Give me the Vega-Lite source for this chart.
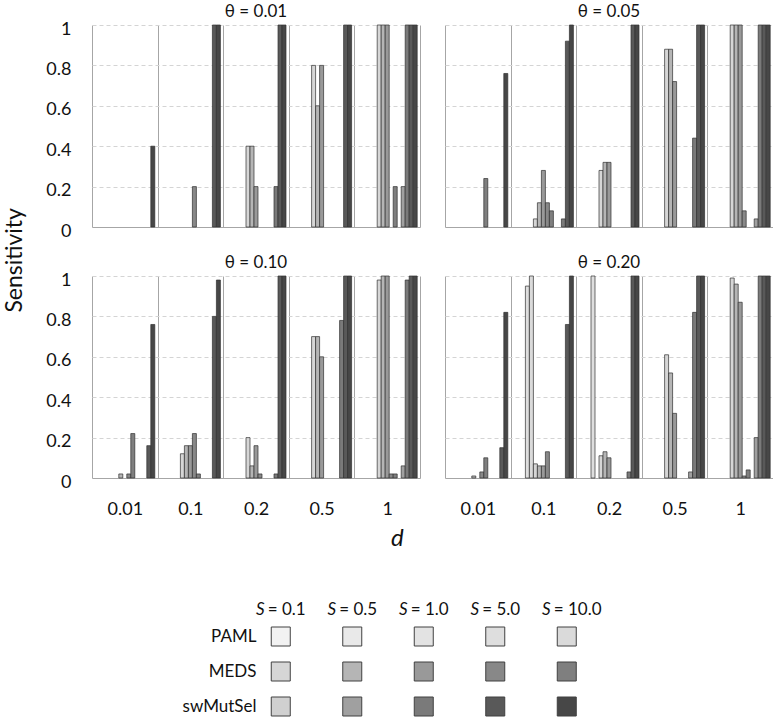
{
  "$schema": "https://vega.github.io/schema/vega-lite/v6.json",
  "padding": {"left": 3, "top": 2, "right": 0, "bottom": 0},
  "background": "white",
  "config": {
    "font": "Lato",
    "view": {"stroke": null},
    "axis": {"labelColor": "#111", "labelFont": "Lato"},
    "header": {"labelFont": "Lato", "labelColor": "#111"},
    "title": {"font": "Lato", "color": "#111", "fontWeight": "normal"}
  },
  "datasets": {
    "bars": [
      {"t": "0.01", "d": "0.01", "k": "swMutSel 10.0", "v": 0.40},
      {"t": "0.01", "d": "0.1", "k": "MEDS 5.0", "v": 0.20},
      {"t": "0.01", "d": "0.1", "k": "swMutSel 5.0", "v": 1},
      {"t": "0.01", "d": "0.1", "k": "swMutSel 10.0", "v": 1},
      {"t": "0.01", "d": "0.2", "k": "MEDS 0.1", "v": 0.40},
      {"t": "0.01", "d": "0.2", "k": "MEDS 0.5", "v": 0.40},
      {"t": "0.01", "d": "0.2", "k": "MEDS 1.0", "v": 0.20},
      {"t": "0.01", "d": "0.2", "k": "swMutSel 1.0", "v": 0.20},
      {"t": "0.01", "d": "0.2", "k": "swMutSel 5.0", "v": 1},
      {"t": "0.01", "d": "0.2", "k": "swMutSel 10.0", "v": 1},
      {"t": "0.01", "d": "0.5", "k": "MEDS 0.1", "v": 0.80},
      {"t": "0.01", "d": "0.5", "k": "MEDS 0.5", "v": 0.60},
      {"t": "0.01", "d": "0.5", "k": "MEDS 1.0", "v": 0.80},
      {"t": "0.01", "d": "0.5", "k": "swMutSel 5.0", "v": 1},
      {"t": "0.01", "d": "0.5", "k": "swMutSel 10.0", "v": 1},
      {"t": "0.01", "d": "1", "k": "MEDS 0.1", "v": 1},
      {"t": "0.01", "d": "1", "k": "MEDS 0.5", "v": 1},
      {"t": "0.01", "d": "1", "k": "MEDS 1.0", "v": 1},
      {"t": "0.01", "d": "1", "k": "MEDS 10.0", "v": 0.20},
      {"t": "0.01", "d": "1", "k": "swMutSel 0.5", "v": 0.20},
      {"t": "0.01", "d": "1", "k": "swMutSel 1.0", "v": 1},
      {"t": "0.01", "d": "1", "k": "swMutSel 5.0", "v": 1},
      {"t": "0.01", "d": "1", "k": "swMutSel 10.0", "v": 1},

      {"t": "0.05", "d": "0.01", "k": "MEDS 10.0", "v": 0.24},
      {"t": "0.05", "d": "0.01", "k": "swMutSel 10.0", "v": 0.76},
      {"t": "0.05", "d": "0.1", "k": "MEDS 0.1", "v": 0.04},
      {"t": "0.05", "d": "0.1", "k": "MEDS 0.5", "v": 0.12},
      {"t": "0.05", "d": "0.1", "k": "MEDS 1.0", "v": 0.28},
      {"t": "0.05", "d": "0.1", "k": "MEDS 5.0", "v": 0.12},
      {"t": "0.05", "d": "0.1", "k": "MEDS 10.0", "v": 0.08},
      {"t": "0.05", "d": "0.1", "k": "swMutSel 1.0", "v": 0.04},
      {"t": "0.05", "d": "0.1", "k": "swMutSel 5.0", "v": 0.92},
      {"t": "0.05", "d": "0.1", "k": "swMutSel 10.0", "v": 1},
      {"t": "0.05", "d": "0.2", "k": "MEDS 0.1", "v": 0.28},
      {"t": "0.05", "d": "0.2", "k": "MEDS 0.5", "v": 0.32},
      {"t": "0.05", "d": "0.2", "k": "MEDS 1.0", "v": 0.32},
      {"t": "0.05", "d": "0.2", "k": "swMutSel 5.0", "v": 1},
      {"t": "0.05", "d": "0.2", "k": "swMutSel 10.0", "v": 1},
      {"t": "0.05", "d": "0.5", "k": "MEDS 0.1", "v": 0.88},
      {"t": "0.05", "d": "0.5", "k": "MEDS 0.5", "v": 0.88},
      {"t": "0.05", "d": "0.5", "k": "MEDS 1.0", "v": 0.72},
      {"t": "0.05", "d": "0.5", "k": "swMutSel 1.0", "v": 0.44},
      {"t": "0.05", "d": "0.5", "k": "swMutSel 5.0", "v": 1},
      {"t": "0.05", "d": "0.5", "k": "swMutSel 10.0", "v": 1},
      {"t": "0.05", "d": "1", "k": "MEDS 0.1", "v": 1},
      {"t": "0.05", "d": "1", "k": "MEDS 0.5", "v": 1},
      {"t": "0.05", "d": "1", "k": "MEDS 1.0", "v": 1},
      {"t": "0.05", "d": "1", "k": "MEDS 5.0", "v": 0.08},
      {"t": "0.05", "d": "1", "k": "swMutSel 0.5", "v": 0.04},
      {"t": "0.05", "d": "1", "k": "swMutSel 1.0", "v": 1},
      {"t": "0.05", "d": "1", "k": "swMutSel 5.0", "v": 1},
      {"t": "0.05", "d": "1", "k": "swMutSel 10.0", "v": 1},

      {"t": "0.10", "d": "0.01", "k": "MEDS 0.5", "v": 0.02},
      {"t": "0.10", "d": "0.01", "k": "MEDS 5.0", "v": 0.02},
      {"t": "0.10", "d": "0.01", "k": "MEDS 10.0", "v": 0.22},
      {"t": "0.10", "d": "0.01", "k": "swMutSel 5.0", "v": 0.16},
      {"t": "0.10", "d": "0.01", "k": "swMutSel 10.0", "v": 0.76},
      {"t": "0.10", "d": "0.1", "k": "MEDS 0.1", "v": 0.12},
      {"t": "0.10", "d": "0.1", "k": "MEDS 0.5", "v": 0.16},
      {"t": "0.10", "d": "0.1", "k": "MEDS 1.0", "v": 0.16},
      {"t": "0.10", "d": "0.1", "k": "MEDS 5.0", "v": 0.22},
      {"t": "0.10", "d": "0.1", "k": "MEDS 10.0", "v": 0.02},
      {"t": "0.10", "d": "0.1", "k": "swMutSel 5.0", "v": 0.80},
      {"t": "0.10", "d": "0.1", "k": "swMutSel 10.0", "v": 0.98},
      {"t": "0.10", "d": "0.2", "k": "MEDS 0.1", "v": 0.20},
      {"t": "0.10", "d": "0.2", "k": "MEDS 0.5", "v": 0.06},
      {"t": "0.10", "d": "0.2", "k": "MEDS 1.0", "v": 0.16},
      {"t": "0.10", "d": "0.2", "k": "MEDS 5.0", "v": 0.02},
      {"t": "0.10", "d": "0.2", "k": "swMutSel 1.0", "v": 0.02},
      {"t": "0.10", "d": "0.2", "k": "swMutSel 5.0", "v": 1},
      {"t": "0.10", "d": "0.2", "k": "swMutSel 10.0", "v": 1},
      {"t": "0.10", "d": "0.5", "k": "MEDS 0.1", "v": 0.70},
      {"t": "0.10", "d": "0.5", "k": "MEDS 0.5", "v": 0.70},
      {"t": "0.10", "d": "0.5", "k": "MEDS 1.0", "v": 0.60},
      {"t": "0.10", "d": "0.5", "k": "swMutSel 1.0", "v": 0.78},
      {"t": "0.10", "d": "0.5", "k": "swMutSel 5.0", "v": 1},
      {"t": "0.10", "d": "0.5", "k": "swMutSel 10.0", "v": 1},
      {"t": "0.10", "d": "1", "k": "MEDS 0.1", "v": 0.98},
      {"t": "0.10", "d": "1", "k": "MEDS 0.5", "v": 1},
      {"t": "0.10", "d": "1", "k": "MEDS 1.0", "v": 1},
      {"t": "0.10", "d": "1", "k": "MEDS 5.0", "v": 0.02},
      {"t": "0.10", "d": "1", "k": "MEDS 10.0", "v": 0.02},
      {"t": "0.10", "d": "1", "k": "swMutSel 0.5", "v": 0.06},
      {"t": "0.10", "d": "1", "k": "swMutSel 1.0", "v": 0.98},
      {"t": "0.10", "d": "1", "k": "swMutSel 5.0", "v": 1},
      {"t": "0.10", "d": "1", "k": "swMutSel 10.0", "v": 1},

      {"t": "0.20", "d": "0.01", "k": "MEDS 0.5", "v": 0.01},
      {"t": "0.20", "d": "0.01", "k": "MEDS 5.0", "v": 0.03},
      {"t": "0.20", "d": "0.01", "k": "MEDS 10.0", "v": 0.10},
      {"t": "0.20", "d": "0.01", "k": "swMutSel 5.0", "v": 0.15},
      {"t": "0.20", "d": "0.01", "k": "swMutSel 10.0", "v": 0.82},
      {"t": "0.20", "d": "0.1", "k": "PAML 5.0", "v": 0.95},
      {"t": "0.20", "d": "0.1", "k": "PAML 10.0", "v": 1},
      {"t": "0.20", "d": "0.1", "k": "MEDS 0.1", "v": 0.07},
      {"t": "0.20", "d": "0.1", "k": "MEDS 0.5", "v": 0.06},
      {"t": "0.20", "d": "0.1", "k": "MEDS 1.0", "v": 0.06},
      {"t": "0.20", "d": "0.1", "k": "MEDS 5.0", "v": 0.13},
      {"t": "0.20", "d": "0.1", "k": "swMutSel 5.0", "v": 0.76},
      {"t": "0.20", "d": "0.1", "k": "swMutSel 10.0", "v": 1},
      {"t": "0.20", "d": "0.2", "k": "PAML 5.0", "v": 1},
      {"t": "0.20", "d": "0.2", "k": "MEDS 0.1", "v": 0.11},
      {"t": "0.20", "d": "0.2", "k": "MEDS 0.5", "v": 0.13},
      {"t": "0.20", "d": "0.2", "k": "MEDS 1.0", "v": 0.10},
      {"t": "0.20", "d": "0.2", "k": "swMutSel 1.0", "v": 0.03},
      {"t": "0.20", "d": "0.2", "k": "swMutSel 5.0", "v": 1},
      {"t": "0.20", "d": "0.2", "k": "swMutSel 10.0", "v": 1},
      {"t": "0.20", "d": "0.5", "k": "MEDS 0.1", "v": 0.61},
      {"t": "0.20", "d": "0.5", "k": "MEDS 0.5", "v": 0.52},
      {"t": "0.20", "d": "0.5", "k": "MEDS 1.0", "v": 0.32},
      {"t": "0.20", "d": "0.5", "k": "swMutSel 0.5", "v": 0.03},
      {"t": "0.20", "d": "0.5", "k": "swMutSel 1.0", "v": 0.82},
      {"t": "0.20", "d": "0.5", "k": "swMutSel 5.0", "v": 1},
      {"t": "0.20", "d": "0.5", "k": "swMutSel 10.0", "v": 1},
      {"t": "0.20", "d": "1", "k": "MEDS 0.1", "v": 0.99},
      {"t": "0.20", "d": "1", "k": "MEDS 0.5", "v": 0.96},
      {"t": "0.20", "d": "1", "k": "MEDS 1.0", "v": 0.87},
      {"t": "0.20", "d": "1", "k": "MEDS 5.0", "v": 0.01},
      {"t": "0.20", "d": "1", "k": "MEDS 10.0", "v": 0.04},
      {"t": "0.20", "d": "1", "k": "swMutSel 0.5", "v": 0.20},
      {"t": "0.20", "d": "1", "k": "swMutSel 1.0", "v": 1},
      {"t": "0.20", "d": "1", "k": "swMutSel 5.0", "v": 1},
      {"t": "0.20", "d": "1", "k": "swMutSel 10.0", "v": 1}
    ],
    "legend": [
      {"m": "PAML", "S": "0.1", "k": "PAML 0.1"},
      {"m": "PAML", "S": "0.5", "k": "PAML 0.5"},
      {"m": "PAML", "S": "1.0", "k": "PAML 1.0"},
      {"m": "PAML", "S": "5.0", "k": "PAML 5.0"},
      {"m": "PAML", "S": "10.0", "k": "PAML 10.0"},
      {"m": "MEDS", "S": "0.1", "k": "MEDS 0.1"},
      {"m": "MEDS", "S": "0.5", "k": "MEDS 0.5"},
      {"m": "MEDS", "S": "1.0", "k": "MEDS 1.0"},
      {"m": "MEDS", "S": "5.0", "k": "MEDS 5.0"},
      {"m": "MEDS", "S": "10.0", "k": "MEDS 10.0"},
      {"m": "swMutSel", "S": "0.1", "k": "swMutSel 0.1"},
      {"m": "swMutSel", "S": "0.5", "k": "swMutSel 0.5"},
      {"m": "swMutSel", "S": "1.0", "k": "swMutSel 1.0"},
      {"m": "swMutSel", "S": "5.0", "k": "swMutSel 5.0"},
      {"m": "swMutSel", "S": "10.0", "k": "swMutSel 10.0"}
    ],
    "hdr": [
      {"S": "0.1", "lab": "= 0.1"},
      {"S": "0.5", "lab": "= 0.5"},
      {"S": "1.0", "lab": "= 1.0"},
      {"S": "5.0", "lab": "= 5.0"},
      {"S": "10.0", "lab": "= 10.0"}
    ]
  },
  "vconcat": [
    {
      "data": {"name": "bars"},
      "title": {"text": "Sensitivity", "orient": "left", "anchor": "middle", "fontSize": 23, "offset": 19},
      "facet": {
        "field": "t",
        "type": "nominal",
        "header": {"title": null, "labelExpr": "'θ = ' + datum.value", "labelFontSize": 17, "labelPadding": 4}
      },
      "columns": 2,
      "spacing": {"column": 25, "row": 25},
      "spec": {
        "width": 328,
        "height": 202,
        "mark": {"type": "bar", "stroke": "#303030", "strokeWidth": 0.7},
        "encoding": {
          "x": {
            "field": "d", "type": "nominal",
            "sort": ["0.01", "0.1", "0.2", "0.5", "1"],
            "scale": {"paddingInner": 0, "paddingOuter": 0},
            "axis": {"title": null, "labelAngle": 0, "tickBand": "extent", "grid": true, "gridColor": "#a6a6a6", "gridWidth": 1, "domain": false, "ticks": false, "labelFontSize": 18, "labelPadding": 21}
          },
          "xOffset": {
            "field": "k", "type": "nominal",
            "scale": {"domain": ["PAML 0.1", "PAML 0.5", "PAML 1.0", "PAML 5.0", "PAML 10.0", "MEDS 0.1", "MEDS 0.5", "MEDS 1.0", "MEDS 5.0", "MEDS 10.0", "swMutSel 0.1", "swMutSel 0.5", "swMutSel 1.0", "swMutSel 5.0", "swMutSel 10.0"], "paddingInner": 0, "paddingOuter": 0.7}
          },
          "y": {
            "field": "v", "type": "quantitative",
            "scale": {"domain": [0, 1], "nice": false},
            "axis": {
              "title": null, "values": [0, 0.2, 0.4, 0.6, 0.8, 1], "format": "~g",
              "grid": true,
              "gridDash": {"condition": {"test": "datum.value === 0", "value": []}, "value": [4, 3]},
              "gridColor": {"condition": {"test": "datum.value === 0", "value": "#a6a6a6"}, "value": "#d4d4d4"},
              "domain": false, "ticks": false, "labelFontSize": 18, "labelPadding": 21, "labelOffset": 4
            }
          },
          "color": {
            "field": "k", "type": "nominal", "legend": null,
            "scale": {
              "domain": ["PAML 0.1", "PAML 0.5", "PAML 1.0", "PAML 5.0", "PAML 10.0", "MEDS 0.1", "MEDS 0.5", "MEDS 1.0", "MEDS 5.0", "MEDS 10.0", "swMutSel 0.1", "swMutSel 0.5", "swMutSel 1.0", "swMutSel 5.0", "swMutSel 10.0"],
              "range": ["#f2f2f2", "#e9e9e9", "#e3e3e3", "#dedede", "#dadada", "#d6d6d6", "#b5b5b5", "#999999", "#888888", "#7f7f7f", "#d0d0d0", "#a0a0a0", "#7a7a7a", "#595959", "#474747"]
            }
          }
        }
      }
    },
    {
      "width": 500.5,
      "height": 140,
      "title": {"text": "d", "fontStyle": "italic", "fontSize": 24, "anchor": "middle", "offset": 33, "dx": 55},
      "encoding": {
        "x": {"field": "S", "type": "nominal", "bandPosition": 0.64, "sort": ["0.1", "0.5", "1.0", "5.0", "10.0"], "scale": {"type": "band", "domain": ["0.1", "0.5", "1.0", "5.0", "10.0"], "paddingInner": 0, "paddingOuter": 1, "align": 1}, "axis": null},
        "y": {"field": "m", "type": "nominal", "scale": {"type": "point", "domain": ["h", "PAML", "MEDS", "swMutSel"], "padding": 0.5},
          "axis": {"title": null, "labelExpr": "datum.value == 'h' ? '' : datum.value", "labelPadding": -164, "ticks": false, "domain": false, "grid": false, "labelFontSize": 17}}
      },
      "layer": [
        {
          "data": {"name": "legend"},
          "mark": {"type": "square", "size": 361, "filled": true, "stroke": "#404040", "strokeWidth": 1, "opacity": 1},
          "encoding": {"color": {"field": "k", "type": "nominal", "legend": null}}
        },
        {
          "data": {"name": "hdr"},
          "mark": {"type": "text", "text": "S", "fontStyle": "italic", "fontSize": 17, "align": "right", "dx": -16, "dy": 8, "color": "#111"},
          "encoding": {"y": {"datum": "h"}}
        },
        {
          "data": {"name": "hdr"},
          "mark": {"type": "text", "fontSize": 17, "align": "left", "dx": -13, "dy": 8, "color": "#111"},
          "encoding": {"y": {"datum": "h"}, "text": {"field": "lab"}}
        }
      ]
    }
  ],
  "spacing": 9
}
